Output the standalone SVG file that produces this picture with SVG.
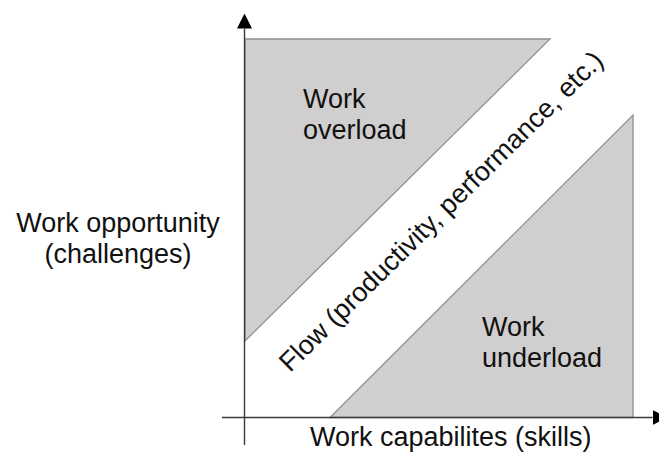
<svg xmlns="http://www.w3.org/2000/svg" width="659" height="462" viewBox="0 0 659 462">
<style>
.zone{fill:#d0cece;stroke:#8f8f8f;stroke-width:1.3}
.axis{stroke:#3a3a3a;stroke-width:1.4;fill:none}
.lbl{font-family:"Liberation Sans",Arial,sans-serif;font-size:27px;fill:#111}
</style>
<defs>
<marker id="ah" viewBox="0 0 15 15" refX="0" refY="7.5" markerWidth="15" markerHeight="15" markerUnits="userSpaceOnUse" orient="auto">
<path d="M0,0 L15,7.5 L0,15 Z" fill="#000"/>
</marker>
</defs>
<g id="overload">
<polygon class="zone" points="245,39 550,39 245,341"/>
<text class="lbl" x="303" y="108">Work</text>
<text class="lbl" x="303" y="139">overload</text>
</g>
<g id="underload">
<polygon class="zone" points="633,115 633,417.5 330,417.5"/>
<text class="lbl" x="482" y="336">Work</text>
<text class="lbl" x="482" y="367">underload</text>
</g>
<g id="flow">
<text class="lbl" x="290" y="373" transform="rotate(-44.6 290 373)">Flow (productivity, performance, etc.)</text>
</g>
<g id="connectors">
<line class="axis" x1="244.5" y1="445" x2="244.5" y2="28.5" marker-end="url(#ah)"/>
<line class="axis" x1="222" y1="417.5" x2="652.5" y2="417.5" marker-end="url(#ah)"/>
</g>
<g id="ylabel">
<text class="lbl" x="118" y="232" text-anchor="middle">Work opportunity</text>
<text class="lbl" x="118" y="263" text-anchor="middle">(challenges)</text>
</g>
<g id="xlabel">
<text class="lbl" x="310" y="446">Work capabilites (skills)</text>
</g>
</svg>
